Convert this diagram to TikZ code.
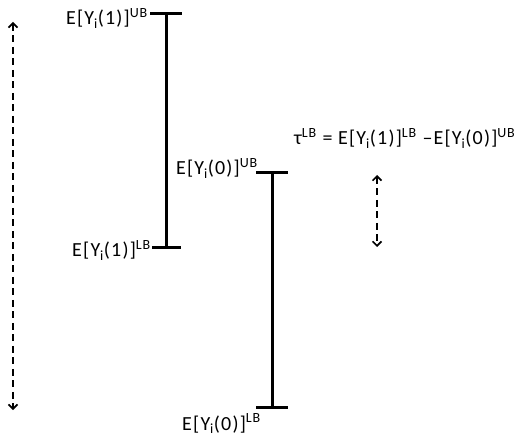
\documentclass[tikz,border=0pt]{standalone}
\usepackage{fontspec}
\setmainfont{Carlito}[LetterSpace=6]
\usetikzlibrary{arrows.meta}
\newcommand{\ysub}{Y\textsubscript{i}}
\begin{document}
\begin{tikzpicture}[x=1pt,y=-1pt,
  bar/.style={line width=3pt},
  span/.style={line width=1.7pt, dash pattern=on 7pt off 4.5pt,
    {Straight Barb[length=4.5pt,width=9pt,line width=1.6pt]}-{Straight Barb[length=4.5pt,width=9pt,line width=1.6pt]}},
  lbl/.style={inner sep=0pt, font=\fontsize{20}{23}\selectfont}]
\useasboundingbox (0,0) rectangle (519,438);

% treated potential outcome bounds
\coordinate (t1) at (166,14);
\coordinate (b1) at (166,248);
\coordinate (t1l) at (150,14);  \coordinate (t1r) at (182,14);
\coordinate (b1l) at (152,248); \coordinate (b1r) at (181,248);
\draw[bar] (t1) -- (b1);
\draw[bar] (t1l) -- (t1r);
\draw[bar] (b1l) -- (b1r);

% control potential outcome bounds
\coordinate (t2) at (272,173);
\coordinate (b2) at (272,407);
\coordinate (t2l) at (256,173); \coordinate (t2r) at (288,173);
\coordinate (b2l) at (256,407); \coordinate (b2r) at (288,407);
\draw[bar] (t2) -- (b2);
\draw[bar] (t2l) -- (t2r);
\draw[bar] (b2l) -- (b2r);

% labels
\node[lbl, anchor=base east] (ub1) at (148,25) {E[\ysub(1)]\textsuperscript{UB}};
\node[lbl, anchor=base east] (lb1) at (151,257) {E[\ysub(1)]\textsuperscript{LB}};
\node[lbl, anchor=base east] (ub0) at (258,175) {E[\ysub(0)]\textsuperscript{UB}};
\node[lbl, anchor=base west] (lb0) at (182,430) {E[\ysub(0)]\textsuperscript{LB}};
\node[lbl, anchor=base west] (tau) at (294,145)
  {τ\textsuperscript{LB} = E[\ysub(1)]\textsuperscript{LB} –E[\ysub(0)]\textsuperscript{UB}};

% ranges
\coordinate (a1) at (13,22);
\coordinate (a2) at (13,410);
\coordinate (c1) at (377,175);
\coordinate (c2) at (377,247);
\draw[span] (a1) -- (a2);
\draw[span] (c1) -- (c2);
\end{tikzpicture}
\end{document}
